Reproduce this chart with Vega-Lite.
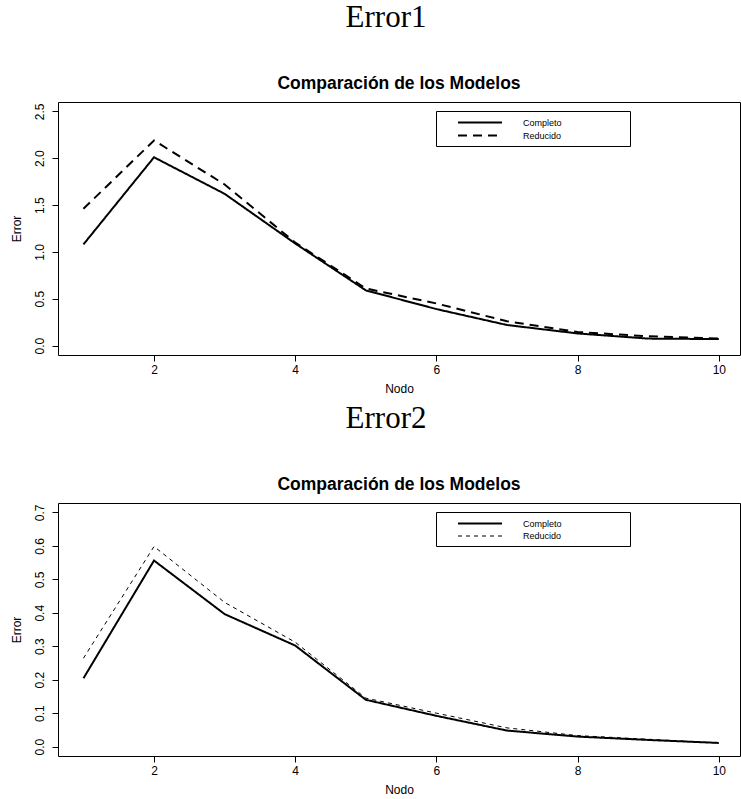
{
  "$schema": "https://vega.github.io/schema/vega-lite/v6.json",
  "padding": {"left": 9, "top": 2, "right": 0, "bottom": 0},
  "background": "white",
  "spacing": 8,
  "resolve": {
    "scale": {"x": "independent", "y": "independent", "strokeDash": "independent", "strokeWidth": "independent"},
    "legend": {"strokeDash": "independent", "strokeWidth": "independent"}
  },
  "datasets": {
    "e1": [
      {"Nodo": 1, "Modelo": "Completo", "Error": 1.08},
      {"Nodo": 2, "Modelo": "Completo", "Error": 2.01},
      {"Nodo": 3, "Modelo": "Completo", "Error": 1.62},
      {"Nodo": 4, "Modelo": "Completo", "Error": 1.09},
      {"Nodo": 5, "Modelo": "Completo", "Error": 0.59},
      {"Nodo": 6, "Modelo": "Completo", "Error": 0.39},
      {"Nodo": 7, "Modelo": "Completo", "Error": 0.22},
      {"Nodo": 8, "Modelo": "Completo", "Error": 0.13},
      {"Nodo": 9, "Modelo": "Completo", "Error": 0.075},
      {"Nodo": 10, "Modelo": "Completo", "Error": 0.07},
      {"Nodo": 1, "Modelo": "Reducido", "Error": 1.46},
      {"Nodo": 2, "Modelo": "Reducido", "Error": 2.19},
      {"Nodo": 3, "Modelo": "Reducido", "Error": 1.72},
      {"Nodo": 4, "Modelo": "Reducido", "Error": 1.1},
      {"Nodo": 5, "Modelo": "Reducido", "Error": 0.61},
      {"Nodo": 6, "Modelo": "Reducido", "Error": 0.45},
      {"Nodo": 7, "Modelo": "Reducido", "Error": 0.26},
      {"Nodo": 8, "Modelo": "Reducido", "Error": 0.145},
      {"Nodo": 9, "Modelo": "Reducido", "Error": 0.1},
      {"Nodo": 10, "Modelo": "Reducido", "Error": 0.075}
    ],
    "e2": [
      {"Nodo": 1, "Modelo": "Completo", "Error": 0.204},
      {"Nodo": 2, "Modelo": "Completo", "Error": 0.556},
      {"Nodo": 3, "Modelo": "Completo", "Error": 0.396},
      {"Nodo": 4, "Modelo": "Completo", "Error": 0.302},
      {"Nodo": 5, "Modelo": "Completo", "Error": 0.14},
      {"Nodo": 6, "Modelo": "Completo", "Error": 0.092},
      {"Nodo": 7, "Modelo": "Completo", "Error": 0.048},
      {"Nodo": 8, "Modelo": "Completo", "Error": 0.03},
      {"Nodo": 9, "Modelo": "Completo", "Error": 0.02},
      {"Nodo": 10, "Modelo": "Completo", "Error": 0.011},
      {"Nodo": 1, "Modelo": "Reducido", "Error": 0.264},
      {"Nodo": 2, "Modelo": "Reducido", "Error": 0.598},
      {"Nodo": 3, "Modelo": "Reducido", "Error": 0.431},
      {"Nodo": 4, "Modelo": "Reducido", "Error": 0.312},
      {"Nodo": 5, "Modelo": "Reducido", "Error": 0.145},
      {"Nodo": 6, "Modelo": "Reducido", "Error": 0.1},
      {"Nodo": 7, "Modelo": "Reducido", "Error": 0.056},
      {"Nodo": 8, "Modelo": "Reducido", "Error": 0.033},
      {"Nodo": 9, "Modelo": "Reducido", "Error": 0.022},
      {"Nodo": 10, "Modelo": "Reducido", "Error": 0.011}
    ]
  },
  "vconcat": [
    {
      "title": {"text": "Error1", "font": "Liberation Serif", "fontSize": 31, "fontWeight": "normal", "color": "black", "anchor": "middle", "frame": "bounds", "offset": 40, "dx": 11},
      "vconcat": [
        {
          "width": 682,
          "height": 253,
          "data": {"name": "e1"},
          "title": {"text": "Comparación de los Modelos", "font": "Liberation Sans", "fontSize": 17.5, "fontWeight": "bold", "color": "black", "anchor": "middle", "frame": "group", "offset": 10},
          "mark": {"type": "line", "color": "black", "strokeWidth": 2},
          "encoding": {
            "x": {"field": "Nodo", "type": "quantitative", "scale": {"domain": [0.64, 10.3], "nice": false, "zero": false}, "axis": {"values": [2, 4, 6, 8, 10], "title": "Nodo"}},
            "y": {"field": "Error", "type": "quantitative", "scale": {"domain": [-0.1, 2.6], "nice": false, "zero": false}, "axis": {"values": [0, 0.5, 1, 1.5, 2, 2.5], "format": ".1f", "title": "Error"}},
            "strokeDash": {"field": "Modelo", "type": "nominal", "scale": {"domain": ["Completo", "Reducido"], "range": [[1, 0], [9, 6]]}, "legend": {"symbolStrokeWidth": 2, "labelExpr": "datum.label + '\u2800\u2800\u2800\u2800\u2800\u2800\u2800\u2800\u2800'"}}
          }
        }
      ]
    },
    {
      "title": {"text": "Error2", "font": "Liberation Serif", "fontSize": 31, "fontWeight": "normal", "color": "black", "anchor": "middle", "frame": "bounds", "offset": 40, "dx": 11},
      "vconcat": [
        {
          "width": 682,
          "height": 253,
          "data": {"name": "e2"},
          "title": {"text": "Comparación de los Modelos", "font": "Liberation Sans", "fontSize": 17.5, "fontWeight": "bold", "color": "black", "anchor": "middle", "frame": "group", "offset": 10},
          "mark": {"type": "line", "color": "black"},
          "encoding": {
            "x": {"field": "Nodo", "type": "quantitative", "scale": {"domain": [0.64, 10.3], "nice": false, "zero": false}, "axis": {"values": [2, 4, 6, 8, 10], "title": "Nodo"}},
            "y": {"field": "Error", "type": "quantitative", "scale": {"domain": [-0.028, 0.728], "nice": false, "zero": false}, "axis": {"values": [0, 0.1, 0.2, 0.3, 0.4, 0.5, 0.6, 0.7], "format": ".1f", "title": "Error"}},
            "strokeDash": {"field": "Modelo", "type": "nominal", "scale": {"domain": ["Completo", "Reducido"], "range": [[1, 0], [4, 4]]}, "legend": {"labelExpr": "datum.label + '\u2800\u2800\u2800\u2800\u2800\u2800\u2800\u2800\u2800'"}},
            "strokeWidth": {"field": "Modelo", "type": "nominal", "scale": {"domain": ["Completo", "Reducido"], "range": [2, 1]}, "legend": {"labelExpr": "datum.label + '\u2800\u2800\u2800\u2800\u2800\u2800\u2800\u2800\u2800'"}}
          }
        }
      ]
    }
  ],
  "config": {
    "font": "Liberation Sans",
    "view": {"stroke": "black", "strokeWidth": 1},
    "axis": {"grid": false, "domain": false, "tickColor": "black", "tickSize": 6, "labelColor": "black", "labelFontSize": 12, "labelFont": "Liberation Sans", "titleFont": "Liberation Sans", "titleFontSize": 12, "titleFontWeight": "normal", "titleColor": "black"},
    "axisX": {"labelPadding": 3, "titlePadding": 8},
    "axisY": {"labelAngle": 270, "labelAlign": "center", "labelBaseline": "bottom", "labelPadding": 6, "titlePadding": 10},
    "legend": {
      "orient": "none", "legendX": 378, "legendY": 9, "title": null,
      "strokeColor": "black", "padding": 5, "fillColor": "white",
      "symbolType": "M-4,0H4", "symbolSize": 121, "symbolStrokeColor": "black", "symbolOffset": 32.5,
      "labelFont": "Liberation Sans", "labelFontSize": 9, "labelColor": "black", "labelOffset": 36.5, "rowPadding": 1
    }
  }
}
